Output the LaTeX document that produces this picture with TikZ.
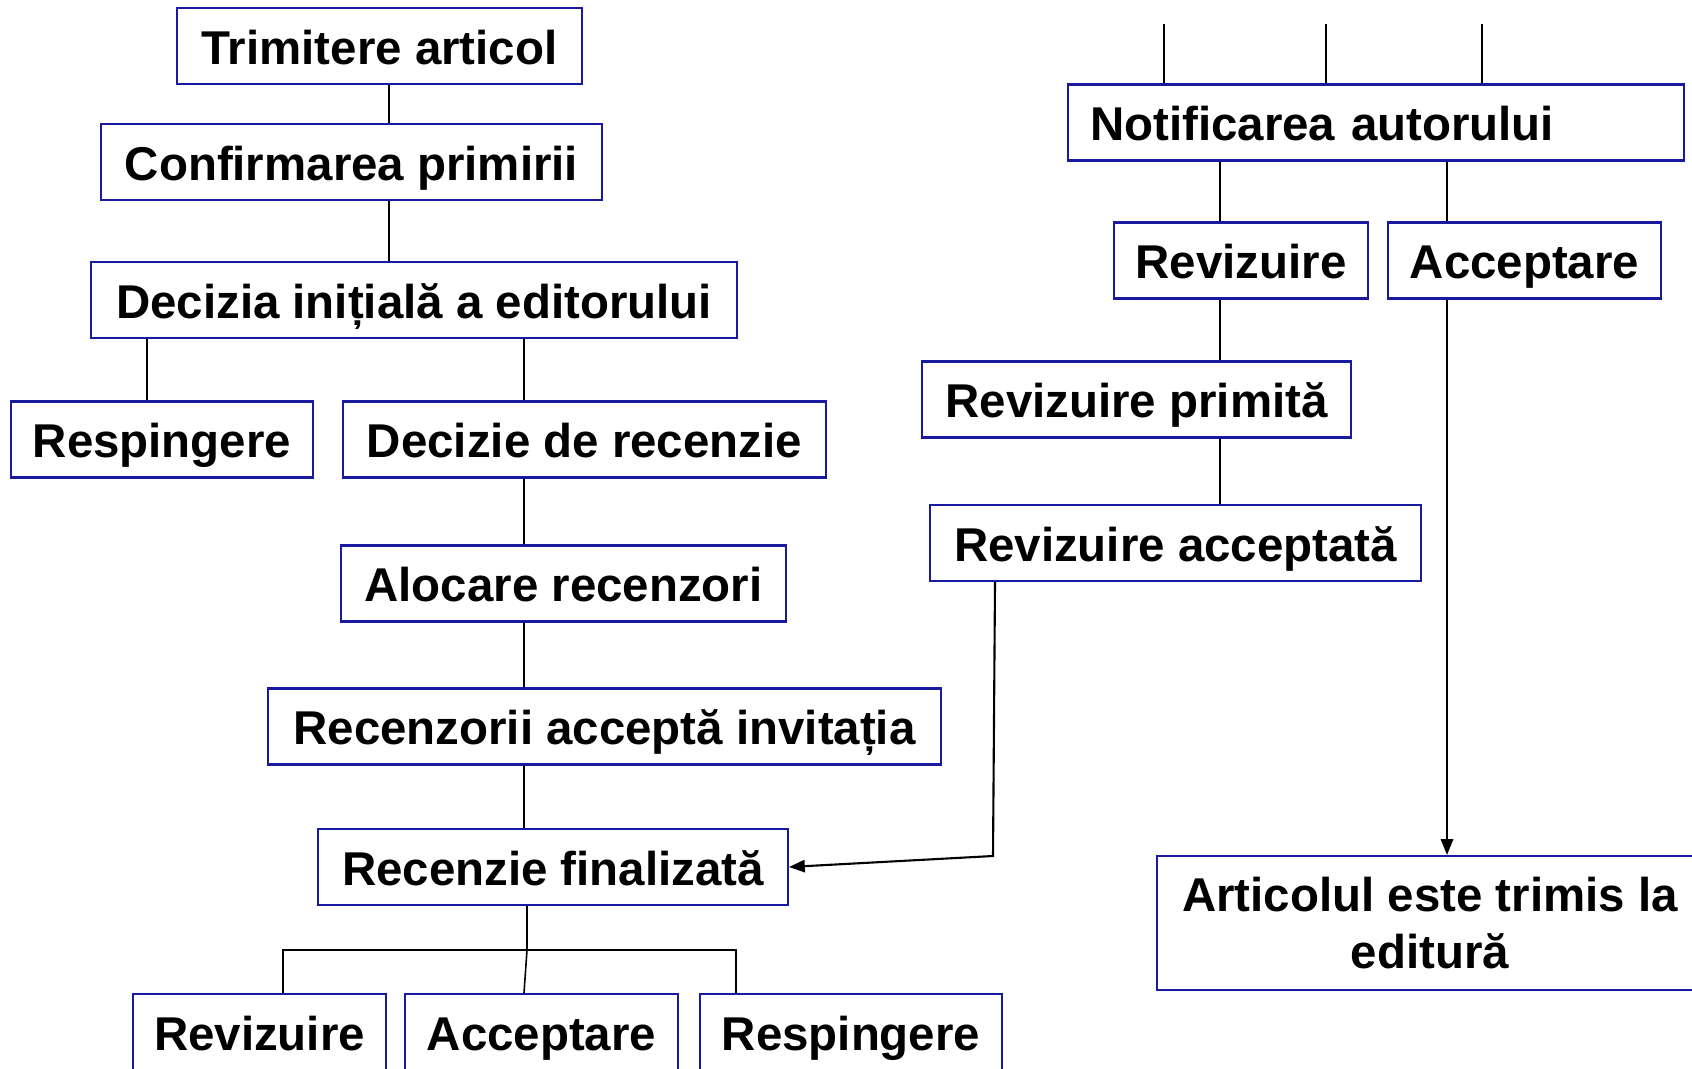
\documentclass[tikz,border=0pt]{standalone}
\usepackage{fontspec}
\setmainfont{Liberation Sans}
\usepackage{tikz}
\usetikzlibrary{positioning,arrows.meta}

\definecolor{boxblue}{RGB}{26,26,160}

\begin{document}
\begin{tikzpicture}[x=0.02cm, y=-0.02cm,
    mybox/.style = {draw=boxblue, line width=1.2pt, fill=white, minimum height=1.52cm,
                    inner sep=0pt, font=\fontsize{27}{32}\selectfont\bfseries},
    oneline/.style = {mybox, text height=21pt, text depth=0pt},
    myline/.style = {black, line width=0.9pt},
    myarrow/.style = {black, line width=1.2pt, -{Triangle[length=9pt,width=7pt]}}]
\useasboundingbox (0,0) rectangle (1692,1068);

% left column
\node[oneline, minimum width=8.10cm] (trim) at (379.5,46) {Trimitere articol};
\node[oneline, minimum width=10.02cm] (conf) at (351.5,162) {Confirmarea primirii};
\node[oneline, minimum width=12.92cm] (dec) at (414,300) {Decizia inițială a editorului};
\node[oneline, minimum width=6.04cm] (resp1) at (162,439.5) {Respingere};
\node[oneline, minimum width=9.66cm] (decrec) at (584.5,439.5) {Decizie de recenzie};
\node[oneline, minimum width=8.90cm] (aloc) at (563.5,583.5) {Alocare recenzori};
\node[oneline, minimum width=13.46cm] (recacc) at (604.5,726.5) {Recenzorii acceptă invitația};
\node[oneline, minimum width=9.40cm] (recfin) at (553,867) {Recenzie finalizată};
\node[oneline, minimum width=5.06cm] (rev1) at (259.5,1032) {Revizuire};
\node[oneline, minimum width=5.46cm] (acc1) at (541.5,1032) {Acceptare};
\node[oneline, minimum width=6.04cm] (resp2) at (851,1032) {Respingere};

% right column
\node[oneline, minimum width=12.32cm, inner xsep=0.44cm, text width=11.44cm, align=left] (notif) at (1376,122.5) {Notificarea autorului};
\node[oneline, minimum width=5.08cm] (rev2) at (1241,260.5) {Revizuire};
\node[oneline, minimum width=5.46cm] (acc2) at (1524.5,260.5) {Acceptare};
\node[oneline, minimum width=8.58cm] (revpr) at (1136.5,399.5) {Revizuire primită};
\node[oneline, minimum width=9.82cm] (revacc) at (1175.5,543) {Revizuire acceptată};
\node[mybox, minimum width=10.92cm, minimum height=2.68cm, align=center] (art) at (1430,923) {Articolul este trimis la\\editură};

\coordinate (branch) at (527,950);
\coordinate (turn) at (993,856);

% connectors
\draw[myline] (trim.south -| 389,0) -- (conf.north -| 389,0);
\draw[myline] (conf.south -| 389,0) -- (dec.north -| 389,0);
\draw[myline] (dec.south -| 147,0) -- (resp1.north -| 147,0);
\foreach \a/\b in {dec/decrec, decrec/aloc, aloc/recacc, recacc/recfin}
    \draw[myline] (\a.south -| 524,0) -- (\b.north -| 524,0);
\draw[myline] (recfin.south -| branch) -- (branch) -- (acc1.north -| 524,0);
\draw[line width=1.3pt] (rev1.north -| 283,0) |- (branch) -| (resp2.north -| 736,0);
\foreach \x in {1164,1326,1482}
    \draw[myline] (\x,24) -- (notif.north -| \x,0);
\draw[myline] (notif.south -| 1220,0) -- (rev2.north -| 1220,0);
\draw[myline] (rev2.south -| 1220,0) -- (revpr.north -| 1220,0);
\draw[myline] (revpr.south -| 1220,0) -- (revacc.north -| 1220,0);
\draw[myline] (notif.south -| 1447,0) -- (acc2.north -| 1447,0);
\draw[myarrow] (acc2.south -| 1447,0) -- (art.north -| 1447,0);
\draw[myarrow] (revacc.south -| 995,0) -- (turn) -- (recfin.east);
\end{tikzpicture}
\end{document}
